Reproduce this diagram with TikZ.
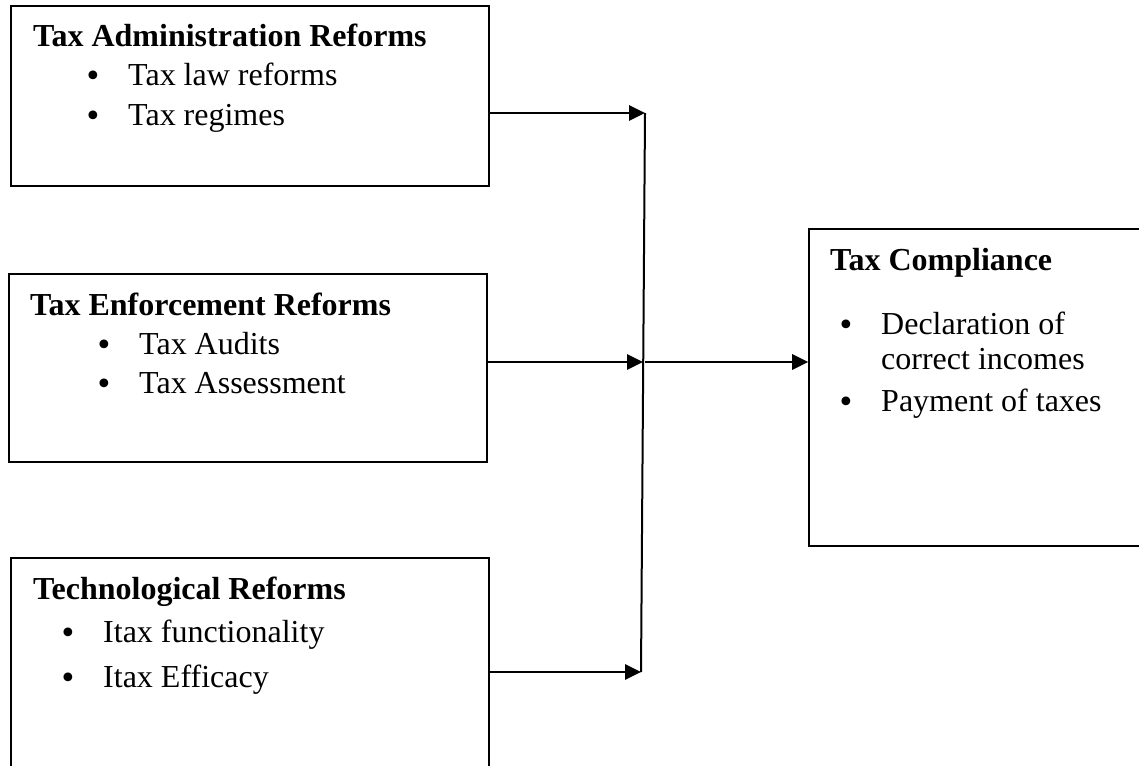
\documentclass[tikz,border=0pt]{standalone}
\usepackage{fontspec}
\setmainfont{Liberation Serif}
\newfontfamily\dotfont{DejaVu Sans}
\usepackage{tikz}
\usetikzlibrary{arrows.meta}

\newcommand{\bitem}[3]{%
  \node[dot] at (#1-1,#2+1) {•};
  \node[item] at (#1+43,#2) {#3};}

\begin{document}
\begin{tikzpicture}[x=1pt,y=-1pt,
    box/.style={draw, rectangle, line width=1.6pt, inner sep=0pt},
    head/.style={anchor=base west, inner sep=0pt, font=\fontsize{32}{38}\selectfont\bfseries},
    item/.style={anchor=base west, inner sep=0pt, font=\fontsize{32}{38}\selectfont},
    dot/.style={anchor=base west, inner sep=0pt, font=\dotfont\fontsize{30}{30}\selectfont},
    arr/.style={line width=2.8pt, -{Triangle[length=16pt,width=15pt]}}]
    \clip (0,0) rectangle (1139,765);

    % boxes
    \node[box, minimum width=478pt, minimum height=180pt] (admin) at (250,96) {};
    \node[box, minimum width=478pt, minimum height=188pt] (enforce) at (248,368) {};
    \node[box, minimum width=478pt, minimum height=242pt] (techno) at (250,679) {};
    \node[box, minimum width=361pt, minimum height=317pt] (comply) at (989.5,387.5) {};

    % texts
    \node[head] (h1) at (33,47) {Tax Administration Reforms};
    \bitem{85}{86}{Tax law reforms}
    \bitem{85}{125}{Tax regimes}

    \node[head] (h2) at (30,315) {Tax Enforcement Reforms};
    \bitem{96}{354}{Tax Audits}
    \bitem{96}{393}{Tax Assessment}

    \node[head] (h3) at (33,599) {Technological Reforms};
    \bitem{60}{642}{Itax functionality}
    \bitem{60}{687}{Itax Efficacy}

    \node[head] (h4) at (830,270) {Tax Compliance};
    \bitem{838}{334}{Declaration of}
    \node[item] (c2) at (881,369) {correct incomes};
    \bitem{838}{411}{Payment of taxes}

    % connectors
    \coordinate (j1) at (645,113);
    \coordinate (j2) at (643,362);
    \coordinate (j3) at (641,672);
    \draw[line width=2pt] (j1) -- (j3);
    \draw[arr] (admin.east |- j1) -- (j1);
    \draw[arr] (enforce.east |- j2) -- (j2);
    \draw[arr] (techno.east |- j3) -- (j3);
    \draw[arr] ([xshift=2pt]j2) -- (comply.west |- j2);
\end{tikzpicture}
\end{document}
